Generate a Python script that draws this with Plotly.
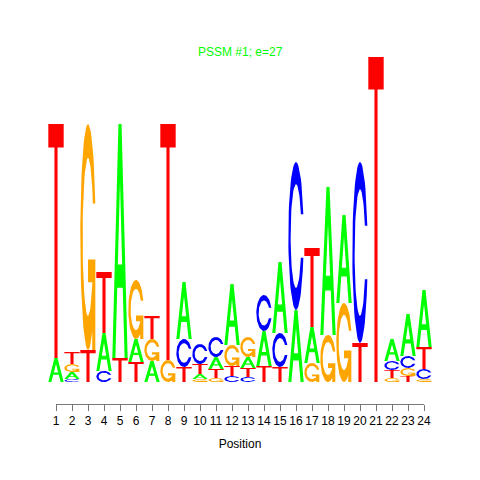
import numpy as np
import plotly.graph_objects as go

# letter heights per position (bits-like units)
positions = list(range(1, 25))
A_h = [0.24, 0.07, 0, 0.38, 2.34, 0.23, 0.21, 0, 0.57, 0.05, 0.12, 0.61,
       0.11, 0.35, 0.71, 0.72, 0.36, 1.48, 0.88, 0, 0, 0.22, 0.42, 0.57]
C_h = [0, 0.03, 0, 0.11, 0, 0, 0, 0, 0.28, 0.20, 0.20, 0.06,
       0.05, 0.36, 0.34, 1.48, 0, 0, 0, 1.81, 0, 0.09, 0.12, 0.10]
G_h = [0, 0.08, 2.26, 0, 0, 0.59, 0.22, 0.22, 0, 0.03, 0.04, 0.21,
       0.20, 0, 0, 0, 0.19, 0.47, 0.79, 0, 0, 0.04, 0.08, 0.03]
T_h = [2.34, 0.12, 0.32, 0.61, 0.24, 0.20, 0.23, 2.36, 0.15, 0.10, 0.09, 0.10,
       0.09, 0.16, 0.15, 0, 0.79, 0, 0, 0.39, 3.25, 0.08, 0.06, 0.22]

heights = {'A': A_h, 'C': C_h, 'G': G_h, 'T': T_h}
colors = {'A': '#00FF00', 'C': '#0000FF', 'G': '#FFA500', 'T': '#FF0000'}
title_text = "PSSM #1; e=27"


def arc(r, a0, a1, n=60):
    t = np.radians(np.linspace(a0, a1, n))
    return list(zip(0.5 + r * np.cos(t), 0.5 + r * np.sin(t)))


# glyph outlines in a unit box (seqLogo-style letters); holes wound the other way
R_OUT, R_IN = 0.5, 0.35
A_OUT = np.degrees(0.3)                                    # outer terminal angle
A_IN = np.degrees(np.arcsin(R_OUT * np.sin(0.3) / R_IN))   # inner terminal, same height


def glyph(base):
    if base == 'A':
        outer = [(0, 0), (0.4, 1), (0.6, 1), (1, 0), (0.8, 0), (0.68, 0.3), (0.32, 0.3), (0.2, 0)]
        hole = [(0.36, 0.4), (0.64, 0.4), (0.5, 0.75)]
        return [outer, hole]
    if base == 'T':
        return [[(0, 1), (1, 1), (1, 0.9), (0.6, 0.9), (0.6, 0), (0.4, 0), (0.4, 0.9), (0, 0.9)]]
    if base == 'C':
        return [arc(R_OUT, A_OUT, 360 - A_OUT) + arc(R_IN, -A_IN, A_IN - 360)]
    # G: ring plus bar and spur, traced as one outline
    r1 = 0.5 + R_OUT * np.cos(0.3)
    xs_ = r1 - 0.2
    a_bot = np.degrees(np.arctan2(-np.sqrt(R_OUT ** 2 - (xs_ - 0.5) ** 2), xs_ - 0.5)) + 360
    yi = 0.5 - np.sqrt(R_IN ** 2 - (xs_ - 0.5) ** 2)
    a_ib = np.degrees(np.arctan2(yi - 0.5, xs_ - 0.5))
    pts = arc(R_OUT, A_OUT, a_bot)
    pts += [(xs_, 0), (r1, 0), (r1, 0.4), (0.5, 0.4), (0.5, 0.3), (xs_, 0.3)]
    pts += arc(R_IN, a_ib, A_IN - 360)
    return [pts]


w = 0.96
xs = {b: [] for b in heights}
ys = {b: [] for b in heights}
for i, p in enumerate(positions):
    stack = sorted([(heights[b][i], b) for b in heights if heights[b][i] > 0])
    y0 = 0.0
    for h, b in stack:
        for poly in glyph(b):
            for u, v in poly:
                xs[b].append(float(p - w / 2 + u * w))
                ys[b].append(float(y0 + v * h))
            xs[b].append(None)
            ys[b].append(None)
        y0 += h

fig = go.Figure()
for b in ['A', 'C', 'G', 'T']:
    fig.add_trace(go.Scatter(
        x=xs[b], y=ys[b], mode='lines', fill='toself',
        fillcolor=colors[b], line=dict(width=0, color=colors[b]),
        hoverinfo='skip', showlegend=False
    ))

# carrier for the position axis
fig.add_trace(go.Scatter(
    x=[positions[0], positions[-1]], y=[0, 0], xaxis='x2', yaxis='y2',
    mode='markers', marker=dict(size=0, opacity=0), hoverinfo='skip', showlegend=False
))

H = 480.0
fig.update_layout(
    template='none',
    width=480, height=480, autosize=False,
    margin=dict(l=0, r=0, t=0, b=0, pad=0, autoexpand=False),
    paper_bgcolor='white', plot_bgcolor='rgba(0,0,0,0)',
    showlegend=False,
    font=dict(family='Liberation Sans, Arial, sans-serif', size=12, color='black'),
    xaxis=dict(domain=[0, 1], range=[-2.5, 27.5], visible=False, automargin=False),
    yaxis=dict(domain=[76 / H, 1], range=[-0.22, 3.82], visible=False, automargin=False),
    yaxis2=dict(domain=[76 / H, 1], range=[0, 1], visible=False, anchor='x2', automargin=False),
    xaxis2=dict(
        domain=[56 / H, 424 / H], range=[1, 24], anchor='y2', automargin=False,
        showline=True, linecolor='#777', linewidth=1,
        ticks='outside', ticklen=6, tickcolor='#777', tickwidth=1,
        tickvals=positions, ticktext=[str(p) for p in positions], tickangle=0,
        showgrid=False, zeroline=False,
        tickfont=dict(size=12, color='black'),
        title=dict(text='Position', font=dict(size=12), standoff=12),
    ),
    annotations=[dict(
        text=title_text, xref='paper', yref='paper', x=240 / H, y=1 - 52 / H,
        showarrow=False, font=dict(size=12, color='#00FF00'),
        xanchor='center', yanchor='middle'
    )],
)

fig.write_html(
    "out.html",
    config={'displayModeBar': False, 'responsive': False},
    post_script="document.body.style.margin='0';document.body.style.overflow='hidden';",
)
